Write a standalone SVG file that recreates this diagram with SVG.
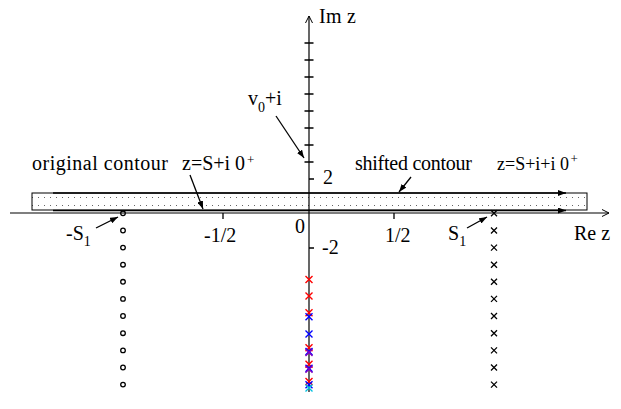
<svg xmlns="http://www.w3.org/2000/svg" width="621" height="409" viewBox="0 0 621 409">
<style>
.t{font-family:'Liberation Serif','DejaVu Serif',serif;font-size:20px;fill:#000}
.sub{font-size:14px}
.sup{font-family:'Liberation Serif','DejaVu Serif',serif;font-size:13px;fill:#000}
.ax{stroke:#000;stroke-width:1.2;fill:none}
.ct{stroke:#000;stroke-width:1.6;fill:none}
.ar{stroke:#000;stroke-width:1.3;fill:none}
.tk{stroke:#000;stroke-width:1.3;fill:none}
.pc{fill:none;stroke:#000;stroke-width:1.3}
.xk{stroke:#000;stroke-width:1.3;fill:none}
.r{stroke:#ff0000;stroke-width:1.4;fill:none}
.b{stroke:#0000ff;stroke-width:1.4;fill:none}
.p{stroke:#8000c0;stroke-width:1.4;fill:none}
.c{stroke:#00c0e0;stroke-width:1.4;fill:none}
</style>
<defs>
<pattern id="dots" x="0" y="193" width="6" height="8" patternUnits="userSpaceOnUse">
<rect x="2" y="4" width="1" height="1" fill="#666"/>
</pattern>
<marker id="fa" markerWidth="9" markerHeight="6" refX="8" refY="3" orient="auto" markerUnits="userSpaceOnUse">
<path d="M0,0 L8,3 L0,6 Z" fill="#000"/>
</marker>
<marker id="oa" markerWidth="9" markerHeight="8" refX="7" refY="4" orient="auto" markerUnits="userSpaceOnUse">
<path d="M0,0.5 L7,4 L0,7.5" fill="none" stroke="#000" stroke-width="1"/>
</marker>
<path id="x7" d="M-3.5,-3.5 L3.5,3.5 M-3.5,3.5 L3.5,-3.5"/>
<path id="x6" d="M-3,-3 L3,3 M-3,3 L3,-3"/>
</defs>

<g id="contour-band">
<rect x="32" y="193" width="555" height="17" fill="url(#dots)" stroke="#000" stroke-width="1"/>
</g>

<g id="axes">
<line class="ax" x1="10" y1="213" x2="609" y2="213" marker-end="url(#oa)"/>
<line class="ax" x1="309" y1="392" x2="309" y2="16" marker-end="url(#oa)"/>
<path class="tk" d="M304.5,43H313.5M304.5,60H313.5M304.5,77H313.5M304.5,94H313.5M304.5,111H313.5M304.5,128H313.5M304.5,145H313.5M304.5,162H313.5M309,179H314M309,248H314M223,213V219M394,213V219"/>
</g>

<g id="contours">
<line class="ct" x1="53" y1="193" x2="566" y2="193" marker-end="url(#fa)"/>
<line class="ct" x1="53" y1="210.5" x2="566" y2="210.5" marker-end="url(#fa)"/>
</g>

<g id="poles-left">
<circle class="pc" cx="123" cy="213.3" r="2.3"/>
<circle class="pc" cx="123" cy="230.5" r="2.3"/>
<circle class="pc" cx="123" cy="247.6" r="2.3"/>
<circle class="pc" cx="123" cy="264.7" r="2.3"/>
<circle class="pc" cx="123" cy="281.8" r="2.3"/>
<circle class="pc" cx="123" cy="298.9" r="2.3"/>
<circle class="pc" cx="123" cy="316" r="2.3"/>
<circle class="pc" cx="123" cy="333.2" r="2.3"/>
<circle class="pc" cx="123" cy="350.4" r="2.3"/>
<circle class="pc" cx="123" cy="367.5" r="2.3"/>
<circle class="pc" cx="123" cy="384.6" r="2.3"/>
</g>

<g id="poles-right" class="xk">
<use href="#x6" x="494" y="213.3"/>
<use href="#x6" x="494" y="230.5"/>
<use href="#x6" x="494" y="247.6"/>
<use href="#x6" x="494" y="264.7"/>
<use href="#x6" x="494" y="281.8"/>
<use href="#x6" x="494" y="298.9"/>
<use href="#x6" x="494" y="316"/>
<use href="#x6" x="494" y="333.2"/>
<use href="#x6" x="494" y="350.4"/>
<use href="#x6" x="494" y="367.5"/>
<use href="#x6" x="494" y="384.6"/>
</g>

<g id="poles-imag">
<use href="#x7" class="r" x="309" y="279.5"/>
<use href="#x7" class="r" x="309" y="296"/>
<use href="#x7" class="r" x="309" y="312.7"/>
<use href="#x7" class="b" x="309" y="316.7"/>
<use href="#x7" class="b" x="309" y="334"/>
<use href="#x7" class="r" x="309" y="347.7"/>
<use href="#x7" class="b" x="309" y="351.5"/>
<use href="#x7" class="p" x="309" y="352.5"/>
<use href="#x7" class="r" x="309" y="364.3"/>
<use href="#x7" class="b" x="309" y="368.3"/>
<use href="#x7" class="p" x="309" y="369.3"/>
<use href="#x7" class="r" x="309" y="381.5"/>
<use href="#x7" class="b" x="309" y="384.8"/>
<use href="#x7" class="c" x="309" y="388"/>
</g>

<g id="labels">
<text class="t" x="319" y="23" textLength="37" lengthAdjust="spacing">Im z</text>
<text class="t" x="248" y="105">v<tspan class="sub" dy="7">0</tspan><tspan dy="-7">+i</tspan></text>
<text class="t" x="323" y="184">2</text>
<text class="t" x="295" y="233">0</text>
<text class="t" x="322" y="254">-2</text>
<text class="t" x="204" y="242">-1/2</text>
<text class="t" x="385" y="242">1/2</text>
<text class="t" x="574" y="240">Re z</text>
<text class="t" x="66" y="240">-S<tspan class="sub" dy="6">1</tspan></text>
<text class="t" x="448" y="240">S<tspan class="sub" dy="6">1</tspan></text>
<text class="t" x="32" y="170" textLength="136" lengthAdjust="spacing">original contour</text>
<text class="t" x="182" y="170">z=S+i 0</text>
<text class="sup" x="247" y="164">+</text>
<text class="t" x="355" y="170" textLength="117" lengthAdjust="spacing">shifted contour</text>
<text class="t" x="497" y="170" style="font-size:18px">z=S+i+i 0</text>
<text class="sup" x="570.5" y="163">+</text>
</g>

<g id="connectors">
<line class="ar" x1="276" y1="116" x2="304" y2="158" marker-end="url(#fa)"/>
<line class="ar" x1="190" y1="175" x2="203" y2="209" marker-end="url(#fa)"/>
<line class="ar" x1="411" y1="177" x2="399" y2="192" marker-end="url(#fa)"/>
<line class="ar" x1="96" y1="228" x2="118" y2="217" marker-end="url(#fa)"/>
<line class="ar" x1="467" y1="228" x2="487" y2="217" marker-end="url(#fa)"/>
</g>
</svg>
